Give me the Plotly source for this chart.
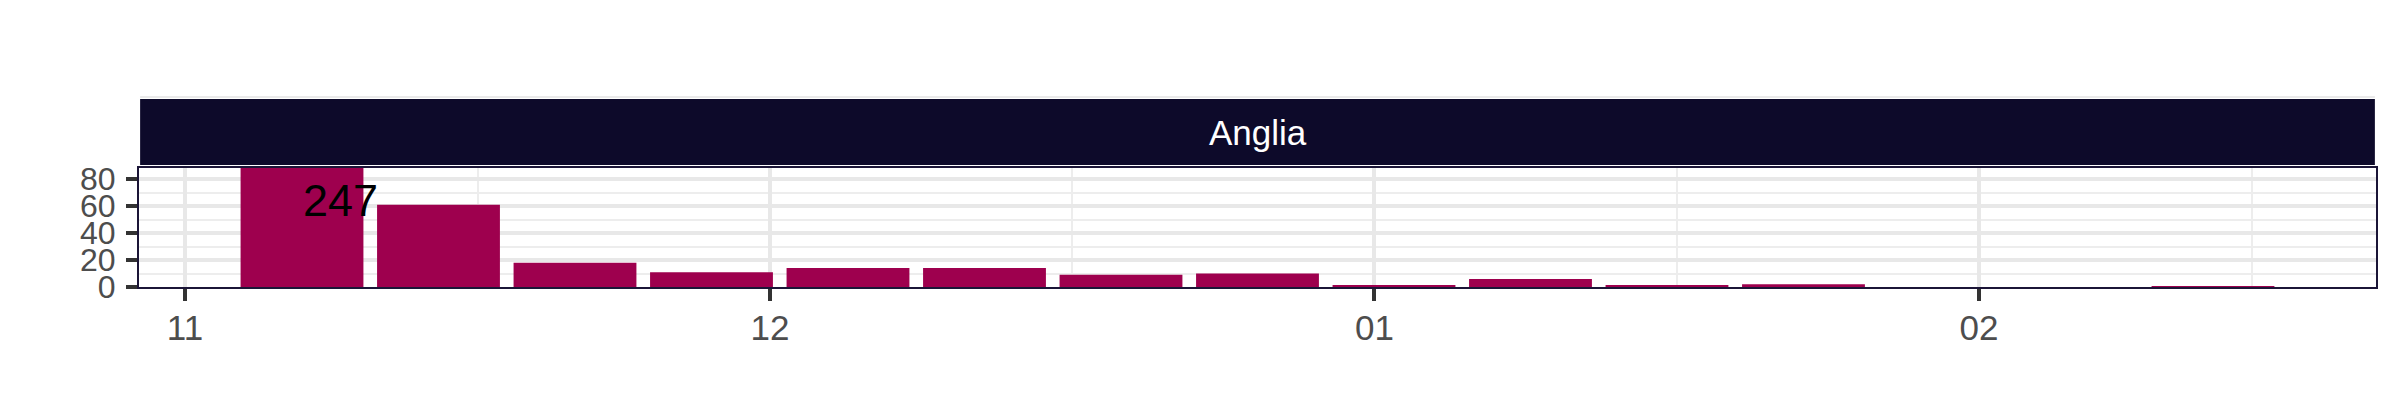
import plotly.graph_objects as go
import pandas as pd

# ---- data ----
region = "Anglia"
week_dates = ["2020-11-07", "2020-11-14", "2020-11-21", "2020-11-28", "2020-12-05",
              "2020-12-12", "2020-12-19", "2020-12-26", "2021-01-02", "2021-01-09",
              "2021-01-16", "2021-01-23", "2021-01-30", "2021-02-06", "2021-02-13"]
values = [247, 61, 18, 11, 14, 14, 9, 10, 1, 6, 1, 2, 0, 0, 0.4]
x_tick_vals = ["2020-11-01", "2020-12-01", "2021-01-01", "2021-02-01"]
x_tick_text = ["11", "12", "01", "02"]
x_minor_vals = ["2020-11-16", "2020-12-16 12:00", "2021-01-16 12:00", "2021-02-15"]
y_tick_vals = [0, 20, 40, 60, 80]
y_tick_text = ["0", "20", "40", "60", "80"]
label_text = "247"

BAR = "#9E004E"
STRIP = "#0D0A2A"
BORDER = "#1B1537"
FONT = "Liberation Sans, Arial, sans-serif"

fig = go.Figure()
fig.add_trace(go.Bar(x=pd.to_datetime(week_dates), y=values, marker_color=BAR,
                     marker_line_width=0, showlegend=False))

fig.update_layout(
    width=2400, height=420,
    margin=dict(l=131, r=32, t=160, b=141),
    paper_bgcolor="white", plot_bgcolor="white",
    bargap=0.1,
    font=dict(family=FONT, color="#4D4D4D", size=30),
)

fig.update_xaxes(
    type="date",
    range=["2020-10-29 15:23", "2021-02-21 08:38"],
    tickmode="array", tickvals=x_tick_vals, ticktext=x_tick_text,
    ticks="outside", ticklen=12, tickwidth=4, tickcolor="#333333",
    tickfont=dict(size=35, color="#4D4D4D", family=FONT),
    ticklabelstandoff=-3,
    showgrid=True, gridcolor="#E8E8E8", gridwidth=3.5,
    minor=dict(tickmode="array", tickvals=x_minor_vals, showgrid=True,
               gridcolor="#EDEDED", gridwidth=2),
    showline=True, linecolor=BORDER, linewidth=2, mirror=True,
    zeroline=False, fixedrange=True,
)
fig.update_yaxes(
    range=[0, 88.15],
    tickmode="array", tickvals=y_tick_vals, ticktext=y_tick_text,
    ticks="outside", ticklen=11, tickwidth=4, tickcolor="#333333",
    tickfont=dict(size=32, color="#4D4D4D", family=FONT),
    ticklabelstandoff=4,
    showgrid=True, gridcolor="#E8E8E8", gridwidth=3.5,
    minor=dict(dtick=10, tick0=0, showgrid=True, gridcolor="#EDEDED", gridwidth=2),
    showline=True, linecolor=BORDER, linewidth=2, mirror=True,
    zeroline=False, fixedrange=True,
)

# facet strip
ph = 119.0
fig.add_shape(type="rect", xref="paper", yref="paper",
              x0=0.0005, x1=0.9995, y0=1 + 3 / ph, y1=1 + 69 / ph,
              fillcolor=STRIP, line_width=0, layer="above")
fig.add_shape(type="line", xref="paper", yref="paper",
              x0=0.0005, x1=0.9995, y0=1 + 71 / ph, y1=1 + 71 / ph,
              line=dict(color="#E3E3E3", width=1.5))
fig.add_annotation(text=region, xref="paper", yref="paper", x=0.5, y=1 + 36 / ph,
                   xanchor="center", yanchor="middle", showarrow=False,
                   font=dict(family=FONT, size=35, color="white"))

# value label for the clipped first bar
fig.add_annotation(text=label_text, x=pd.to_datetime(week_dates[0]), y=64,
                   xref="x", yref="y", xshift=38, xanchor="center", yanchor="middle",
                   showarrow=False, font=dict(family=FONT, size=45, color="black"))

fig.write_html("out.html")
